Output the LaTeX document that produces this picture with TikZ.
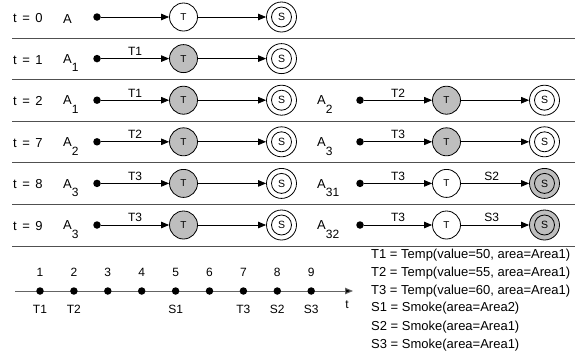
\documentclass[tikz,border=0pt]{standalone}
\usepackage{fontspec}
\setmainfont{Liberation Sans}
\usetikzlibrary{arrows.meta,calc}

\definecolor{stategray}{RGB}{190,190,190}
\definecolor{rulegray}{RGB}{80,80,80}
\definecolor{axisgray}{RGB}{100,100,100}

% lowered index as in A_31
\newcommand{\lowsub}[1]{\raisebox{-8.5pt}{\fontsize{12}{12}\selectfont #1}}
% time-step caption "t = n"
\newcommand{\tstep}[1]{t\hspace{5.5pt}=\hspace{5.5pt}#1}

\tikzset{
  startdot/.style={circle, fill=black, inner sep=0pt, minimum size=7.5pt},
  tstate/.style={circle, draw, line width=0.8pt, fill=#1, inner sep=0pt,
    minimum size=28pt, font=\fontsize{10}{10}\selectfont},
  tstate/.default=white,
  sstate/.style={circle, draw, line width=0.8pt, fill=#1, inner sep=0pt,
    minimum size=30pt, font=\fontsize{10.5}{10.5}\selectfont,
    path picture={\draw[line width=0.8pt] (path picture bounding box.center) circle (10pt);}},
  sstate/.default=white,
  flow/.style={line width=0.8pt, -{Triangle[length=8pt,width=6.5pt]}},
  edgelabel/.style={font=\fontsize{12}{12}\selectfont, above, inner sep=2.5pt},
  rowlabel/.style={anchor=base west, font=\fontsize{13}{13}\selectfont, inner sep=0pt},
  separator/.style={draw=rulegray, line width=1pt},
  tickdot/.style={circle, fill=black, inner sep=0pt, minimum size=7.5pt},
  ticktext/.style={font=\fontsize{12}{12}\selectfont, inner sep=0pt},
  legendtext/.style={anchor=west, font=\fontsize{13}{13}\selectfont, inner sep=0pt},
}

% #1 name prefix, #2 start point, #3 T fill, #4 S fill, #5 first event, #6 second event
\newcommand{\statechain}[6]{%
  \node[startdot] (#1-d) at (#2) {};
  \node[tstate=#3] (#1-t) at ($(#1-d)+(86.5,0)$) {T};
  \node[sstate=#4] (#1-s) at ($(#1-t)+(98,0)$) {S};
  \if\relax\detokenize{#5}\relax
    \draw[flow] (#1-d) -- (#1-t);
  \else
    \draw[flow] (#1-d) -- node[edgelabel] {#5} (#1-t);
  \fi
  \if\relax\detokenize{#6}\relax
    \draw[flow] (#1-t) -- (#1-s);
  \else
    \draw[flow] (#1-t) -- node[edgelabel, pos=0.45] {#6} (#1-s);
  \fi
}

\begin{document}
\begin{tikzpicture}[x=1pt, y=-1pt]
\useasboundingbox (0,0) rectangle (576,360);

% separators between the time steps
\foreach \yy in {38, 79.6, 121.2, 162.8, 204.4, 246}
  \draw[separator] (12,\yy) -- (575,\yy);

% t = 0
\node[rowlabel] (l0) at (13,22.5) {\tstep{0}};
\node[rowlabel] (a0) at (63,23) {A};
\statechain{r0}{97,17}{white}{white}{}{}

% t = 1
\node[rowlabel] (l1) at (13,64.1) {\tstep{1}};
\node[rowlabel] (a1) at (63,63.3) {A\lowsub{1}};
\statechain{r1}{97,58.6}{stategray}{white}{T1}{}

% t = 2
\node[rowlabel] (l2) at (13,105.7) {\tstep{2}};
\node[rowlabel] (a2) at (63,104.9) {A\lowsub{1}};
\statechain{r2}{97,100.2}{stategray}{white}{T1}{}
\node[rowlabel] (b2) at (317,104.9) {A\lowsub{2}};
\statechain{q2}{360,100.2}{stategray}{white}{T2}{}

% t = 7
\node[rowlabel] (l7) at (13,147.3) {\tstep{7}};
\node[rowlabel] (a7) at (63,146.5) {A\lowsub{2}};
\statechain{r7}{97,141.8}{stategray}{white}{T2}{}
\node[rowlabel] (b7) at (317,146.5) {A\lowsub{3}};
\statechain{q7}{360,141.8}{stategray}{white}{T3}{}

% t = 8
\node[rowlabel] (l8) at (13,188.9) {\tstep{8}};
\node[rowlabel] (a8) at (63,188.1) {A\lowsub{3}};
\statechain{r8}{97,183.4}{stategray}{white}{T3}{}
\node[rowlabel] (b8) at (317,188.1) {A\lowsub{31}};
\statechain{q8}{360,183.4}{white}{stategray}{T3}{S2}

% t = 9
\node[rowlabel] (l9) at (13,230.5) {\tstep{9}};
\node[rowlabel] (a9) at (63,229.7) {A\lowsub{3}};
\statechain{r9}{97,225}{stategray}{white}{T3}{}
\node[rowlabel] (b9) at (317,229.7) {A\lowsub{32}};
\statechain{q9}{360,225}{white}{stategray}{T3}{S3}

% time axis
\coordinate (axstart) at (15,291);
\coordinate (axend) at (353,291);
\draw[draw=axisgray, line width=1pt, -{Triangle[length=8pt,width=6.5pt,fill=black]}] (axstart) -- (axend);
\node[ticktext] (taxis) at (347,305) {t};
\foreach \i in {1,...,9}
  \node[tickdot] (k\i) at ({40+33.9*(\i-1)},291) {};
\foreach \i in {1,...,9}
  \node[ticktext] (n\i) at ($(k\i)+(0,-19)$) {\i};
\foreach \i/\ev in {1/T1, 2/T2, 5/S1, 7/T3, 8/S2, 9/S3}
  \node[ticktext] (e\i) at ($(k\i)+(0,18)$) {\ev};

% event definitions
\node[legendtext] (d1) at (371,255) {T1 = Temp(value=50, area=Area1)};
\node[legendtext] (d2) at (371,273) {T2 = Temp(value=55, area=Area1)};
\node[legendtext] (d3) at (371,291.5) {T3 = Temp(value=60, area=Area1)};
\node[legendtext] (d4) at (371,308.5) {S1 = Smoke(area=Area2)};
\node[legendtext] (d5) at (371,327) {S2 = Smoke(area=Area1)};
\node[legendtext] (d6) at (371,345) {S3 = Smoke(area=Area1)};
\end{tikzpicture}
\end{document}
